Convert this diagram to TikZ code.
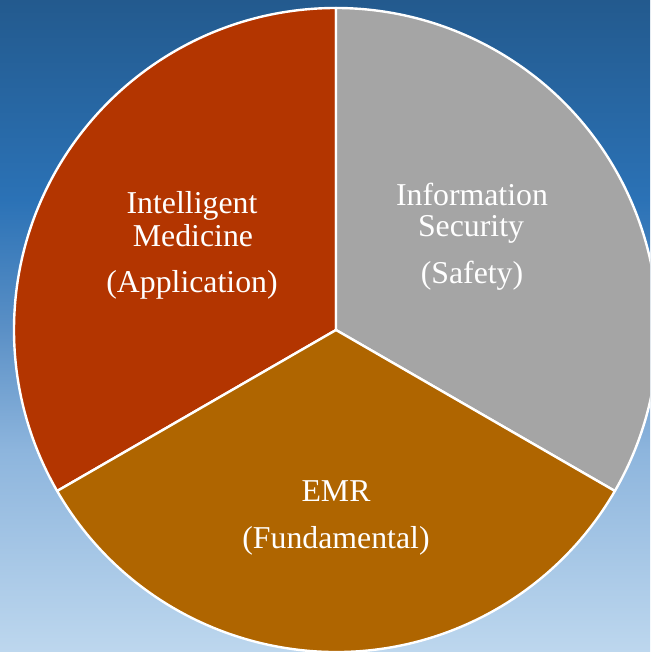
\documentclass[tikz,border=0pt]{standalone}
\usepackage{fontspec}
\setmainfont{Liberation Serif}
\definecolor{appred}{HTML}{B33500}
\definecolor{safegray}{HTML}{A5A5A5}
\definecolor{emrbrown}{HTML}{AF6500}
\definecolor{skyA}{HTML}{235A8E}
\definecolor{skyB}{HTML}{2B72B6}
\definecolor{skyC}{HTML}{5B90C6}
\definecolor{skyD}{HTML}{8DB5DD}
\definecolor{skyE}{HTML}{BDD7EE}
% vertical sky gradient; the filled path spans 25bp (bottom) to 75bp (top)
\pgfdeclareverticalshading{skyshade}{100bp}{%
  color(0bp)=(skyE); color(25bp)=(skyE); color(40.5bp)=(skyD);
  color(49.7bp)=(skyC); color(59.7bp)=(skyB); color(75bp)=(skyA);
  color(100bp)=(skyA)}
\tikzset{
  wedge/.style={draw=white, line width=2.4pt, line join=round},
  lbl/.style={text=white, font=\fontsize{31.8}{34}\selectfont, anchor=base, inner sep=0pt}
}
\begin{document}
\begin{tikzpicture}[x=1pt, y=1pt]
  \useasboundingbox (0,0) rectangle (650,652);
  \shade[shading=skyshade] (0,0) rectangle (650,652);
  \begin{scope}
    \clip (0,0) rectangle (650,652);
    \coordinate (c) at (336,322);
    % three sectors of the pie
    \filldraw[wedge, fill=appred]   (c) -- ++(90:322)  arc (90:210:322)  -- cycle;
    \filldraw[wedge, fill=safegray] (c) -- ++(-30:322) arc (-30:90:322)  -- cycle;
    \filldraw[wedge, fill=emrbrown] (c) -- ++(210:322) arc (210:330:322) -- cycle;
  \end{scope}
  % sector labels
  \node[lbl] (im1) at (192,438.5) {Intelligent};
  \node[lbl] (im2) at (193,405) {Medicine};
  \node[lbl] (im3) at (192,359) {(Application)};
  \node[lbl] (is1) at (472,446.5) {Information};
  \node[lbl] (is2) at (471,415) {Security};
  \node[lbl] (is3) at (472,368) {(Safety)};
  \node[lbl] (em1) at (336,150) {EMR};
  \node[lbl] (em2) at (336,103.5) {(Fundamental)};
\end{tikzpicture}
\end{document}
